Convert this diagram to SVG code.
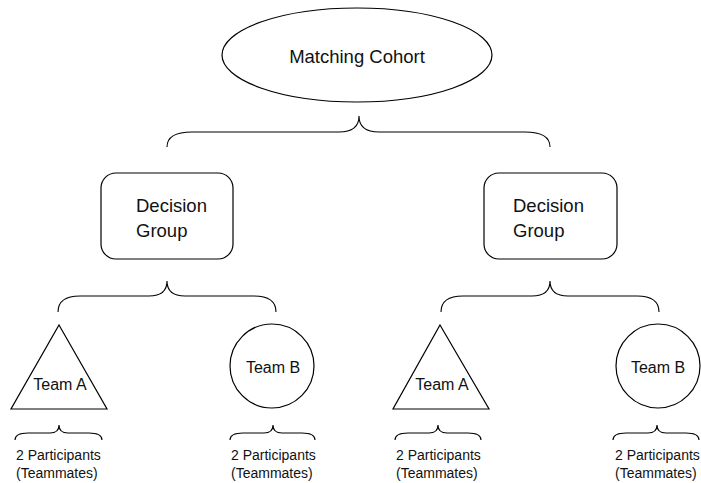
<svg xmlns="http://www.w3.org/2000/svg" width="701" height="483" viewBox="0 0 701 483">
<style>
.s{fill:#fff;stroke:#000;stroke-width:1.2}
.b{fill:none;stroke:#000;stroke-width:1.1}
text{font-family:"Liberation Sans",Arial,sans-serif;fill:#111}
.t1{font-size:18.5px}
.t2{font-size:18.5px}
.t3{font-size:16px}
.t4{font-size:14px}
</style>
<rect width="701" height="483" fill="#fff"/>
<g id="connectors">
<path class="b" d="M167,147 Q167,132 192,132 L339,132 Q359,132 359,116 Q359,132 379,132 L525,132 Q550,132 550,147"/>
<path class="b" d="M58,312 Q58,296 80,296 L149,296 Q167,296 167,281 Q167,296 185,296 L254,296 Q276,296 276,312"/>
<path class="b" d="M441,312 Q441,296 463,296 L532,296 Q550,296 550,281 Q550,296 568,296 L637,296 Q659,296 659,312"/>
<path class="b" d="M15,440 Q15,433 28,433 L50,433 Q59,433 59,425 Q59,433 68,433 L89,433 Q102,433 102,440"/>
<path class="b" d="M230,440 Q230,433 243,433 L264,433 Q273,433 273,425 Q273,433 282,433 L302,433 Q315,433 315,440"/>
<path class="b" d="M395,440 Q395,433 408,433 L429,433 Q438,433 438,425 Q438,433 447,433 L468,433 Q481,433 481,440"/>
<path class="b" d="M613,440 Q613,433 626,433 L648,433 Q657,433 657,425 Q657,433 666,433 L686,433 Q699,433 699,440"/>
</g>
<g id="cohort">
<ellipse class="s" cx="357" cy="55" rx="135" ry="47"/>
<text class="t1" x="357" y="63" text-anchor="middle">Matching Cohort</text>
</g>
<g id="dg1">
<rect class="s" x="101" y="173" width="132" height="86" rx="15"/>
<text class="t2" x="136" y="212">Decision</text>
<text class="t2" x="136" y="237">Group</text>
</g>
<g id="dg2">
<rect class="s" x="484" y="173" width="133" height="86" rx="15"/>
<text class="t2" x="513" y="212">Decision</text>
<text class="t2" x="513" y="237">Group</text>
</g>
<g id="teamA1">
<polygon class="s" points="59,325 107,409 11,409"/>
<text class="t3" x="60" y="390" text-anchor="middle">Team A</text>
</g>
<g id="teamB1">
<circle class="s" cx="272" cy="366" r="42"/>
<text class="t3" x="273" y="373" text-anchor="middle">Team B</text>
</g>
<g id="teamA2">
<polygon class="s" points="440,325 489,409 393,409"/>
<text class="t3" x="442" y="390" text-anchor="middle">Team A</text>
</g>
<g id="teamB2">
<circle class="s" cx="658" cy="366" r="42"/>
<text class="t3" x="658" y="373" text-anchor="middle">Team B</text>
</g>
<g id="p1">
<text class="t4" x="16" y="460">2 Participants</text>
<text class="t4" x="16" y="478">(Teammates)</text>
</g>
<g id="p2">
<text class="t4" x="231" y="460">2 Participants</text>
<text class="t4" x="231" y="478">(Teammates)</text>
</g>
<g id="p3">
<text class="t4" x="396" y="460">2 Participants</text>
<text class="t4" x="396" y="478">(Teammates)</text>
</g>
<g id="p4">
<text class="t4" x="615" y="460">2 Participants</text>
<text class="t4" x="615" y="478">(Teammates)</text>
</g>
</svg>
